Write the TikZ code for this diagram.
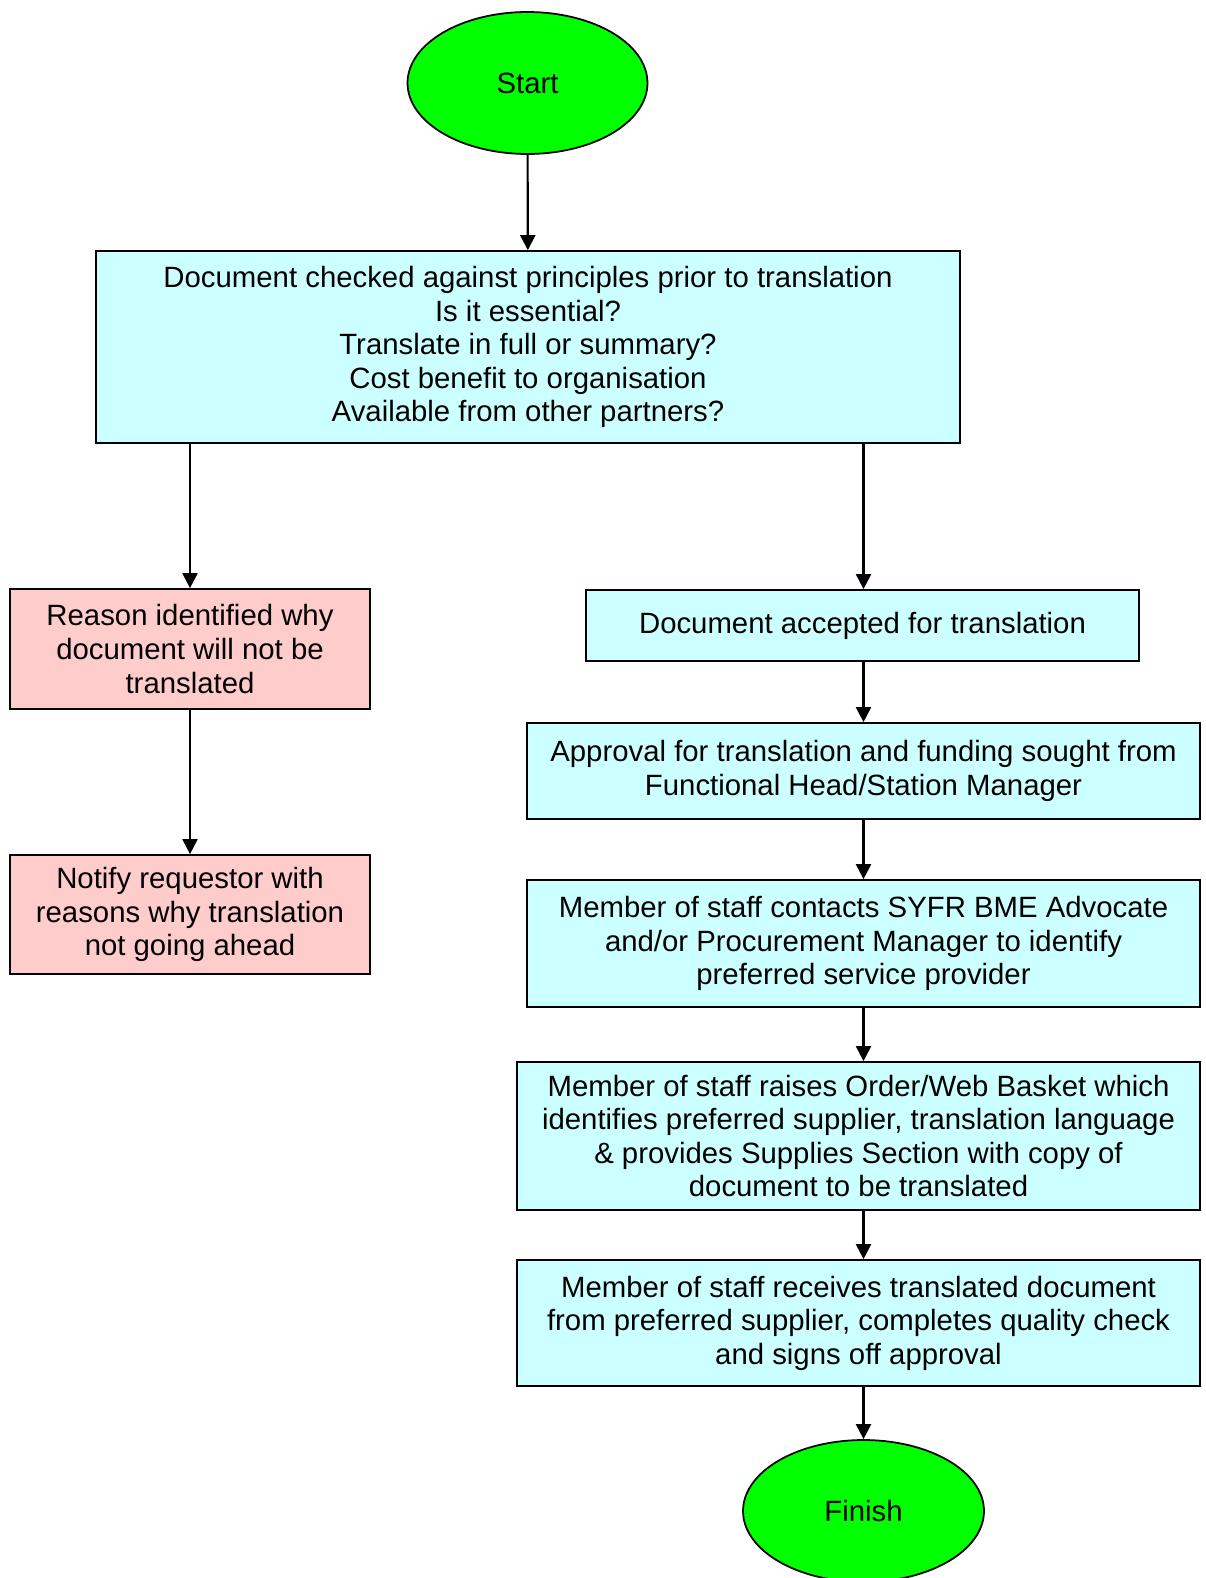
\documentclass[tikz,border=0pt]{standalone}
\usepackage{fontspec}
\setmainfont{Liberation Sans}
\usetikzlibrary{arrows.meta,shapes.geometric}

\definecolor{startgreen}{HTML}{00FF00}
\definecolor{stepcyan}{HTML}{CCFFFF}
\definecolor{stoppink}{HTML}{FFCCCC}

\tikzset{
  terminal/.style={ellipse,draw=black,line width=1pt,fill=startgreen,minimum width=4.8cm,minimum height=2.84cm,inner sep=0pt},
  stepbox/.style={rectangle,draw=black,line width=1pt,fill=stepcyan,align=center,inner sep=0pt},
  stopbox/.style={rectangle,draw=black,line width=1pt,fill=stoppink,align=center,inner sep=0pt},
}

\begin{document}
\begin{tikzpicture}[x=0.02cm,y=-0.02cm,font=\fontsize{16.7}{19.1}\selectfont,>={Triangle[length=0.3cm,width=0.3cm]}]

%SPACING
\useasboundingbox (0,0) rectangle (1205,1578);
%SPACING

\node[terminal](start) at (527.5,83) {Start};
\node[stepbox,minimum width=17.28cm,minimum height=3.84cm](check) at (528,347) {Document checked against principles prior to translation\\Is it essential?\\Translate in full or summary?\\Cost benefit to organisation\\Available from other partners?};

\node[stopbox,minimum width=7.2cm,minimum height=2.4cm](reason) at (190,649) {Reason identified why\\document will not be\\translated};
\node[stopbox,minimum width=7.2cm,minimum height=2.38cm](notify) at (190,914.5) {Notify requestor with\\reasons why translation\\not going ahead};

\node[stepbox,minimum width=11.06cm,minimum height=1.42cm](accepted) at (862.5,625.5) {Document accepted for translation};
\node[stepbox,minimum width=13.46cm,minimum height=1.92cm](approval) at (863.5,771) {Approval for translation and funding sought from\\Functional Head/Station Manager};
\node[stepbox,minimum width=13.46cm,minimum height=2.54cm](contact) at (863.5,943.5) {Member of staff contacts SYFR BME Advocate\\and/or Procurement Manager to identify\\preferred service provider};
\node[stepbox,minimum width=13.66cm,minimum height=2.96cm](order) at (858.5,1136) {Member of staff raises Order/Web Basket which\\identifies preferred supplier, translation language\\\& provides Supplies Section with copy of\\document to be translated};
\node[stepbox,minimum width=13.66cm,minimum height=2.52cm](receive) at (858.5,1323) {Member of staff receives translated document\\from preferred supplier, completes quality check\\and signs off approval};
\node[terminal,minimum width=4.82cm](finish) at (863.5,1511) {Finish};

\draw[->,line width=1.2pt] (start) -- (check);

\draw[->,line width=1.2pt] (check.south -| reason.north) -- (reason);
\draw[->,line width=1.2pt] (reason) -- (notify);

\draw[->,line width=1.2pt] (check.south -| approval.north) -- (approval.north |- accepted.north);
\draw[->,line width=1.2pt] (approval.north |- accepted.south) -- (approval);
\draw[->,line width=1.2pt] (approval) -- (contact);
\draw[->,line width=1.2pt] (contact) -- (contact.south |- order.north);
\draw[->,line width=1.2pt] (contact.south |- order.south) -- (contact.south |- receive.north);
\draw[->,line width=1.2pt] (contact.south |- receive.south) -- (finish);

\end{tikzpicture}
\end{document}
